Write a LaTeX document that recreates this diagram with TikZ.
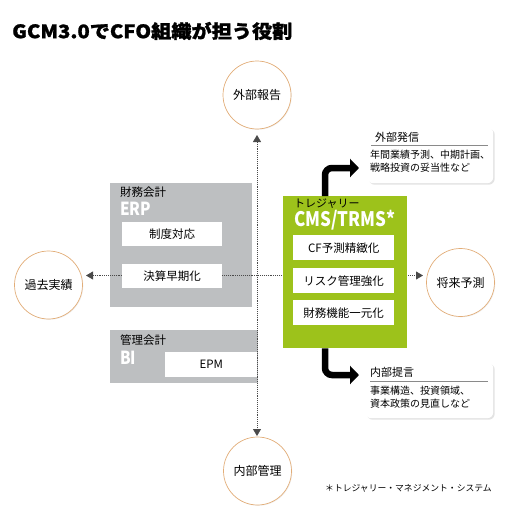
\documentclass[tikz,border=0pt]{standalone}
\usepackage{fontspec}
\setmainfont{Noto Sans CJK JP}
\newfontfamily\condf[FakeStretch=0.85]{Noto Sans CJK JP}
\newfontfamily\titlef[FakeBold=1.2,FakeStretch=1.09]{Noto Sans CJK JP}
\usetikzlibrary{shadows,arrows.meta}
\definecolor{circc}{HTML}{E2AD78}
\definecolor{grayb}{HTML}{BDBFC1}
\definecolor{grn}{HTML}{9DC21B}
\definecolor{dotc}{HTML}{4A4A4A}
\definecolor{rulec}{HTML}{8A8A8A}
\tikzset{
  fs/.style={font=\fontsize{#1}{#1}\selectfont},
  circnode/.style={circle, draw=circc, line width=0.7pt, fill=white, minimum size=68pt, inner sep=0pt, fs=12,
    drop shadow={opacity=0.12, shadow xshift=0.8pt, shadow yshift=-0.8pt}},
  panel/.style={anchor=north west, inner sep=0pt, minimum width=#1},
  wbox/.style={fill=white, anchor=north west, inner sep=0pt, minimum height=24pt, fs=11.5},
  lbl/.style={anchor=north west, inner sep=0pt, fs=11.5},
  big/.style={anchor=north west, inner sep=0pt, text=white, font=\condf\bfseries\fontsize{#1}{#1}\selectfont},
  dotline/.style={draw=dotc, line width=0.8pt, dash pattern=on 0.8pt off 1.1pt,
    {Triangle[length=7pt,width=8pt]}-{Triangle[length=7pt,width=8pt]}},
  bigarrow/.style={draw=black, line width=6.5pt, rounded corners=7pt, -{Triangle[length=9pt,width=18pt]}},
  infobox/.style={anchor=north west, fill=white, rounded corners=6pt, inner sep=0pt,
    drop shadow={opacity=0.22, shadow xshift=1.5pt, shadow yshift=-1.5pt}},
}
\begin{document}
\begin{tikzpicture}[x=1pt,y=-1pt]
\useasboundingbox (0,0) rectangle (507,514);
% title
\node[anchor=west, inner sep=0pt, font=\titlef\bfseries\fontsize{18.5}{19}\selectfont] (title) at (12,31) {GCM3.0でCFO組織が担う役割};

% gray panels
\node[panel=142pt, fill=grayb, minimum height=124pt] (erp) at (110,183) {};
\node[panel=148pt, fill=grayb, minimum height=53pt] (bi) at (110,330) {};
\node[lbl] (zaimu) at (120,187) {財務会計};
\node[big=18] (erpt) at (120,202) {ERP};
\node[lbl] (kanri) at (120,335) {管理会計};
\node[big=18] (bit) at (120,351) {BI};

% circles
\node[circnode] (gaibu) at (257,95) {外部報告};
\node[circnode] (kako) at (48.5,285) {過去実績};
\node[circnode] (shorai) at (460.5,282.5) {将来予測};
\node[circnode] (naibu) at (257.5,471) {内部管理};

% dotted axes
\coordinate (ltip) at (86,275.5);
\coordinate (rtip) at (423,275.5);
\coordinate (ttip) at (257,135);
\coordinate (btip) at (257,436);
\draw[dotline] (ltip) -- (rtip);
\draw[dotline] (ttip) -- (btip);

% white boxes in gray panels
\node[wbox, minimum width=100pt] (seido) at (122,222) {制度対応};
\node[wbox, minimum width=100pt] (kessan) at (122,264) {決算早期化};
\node[wbox, minimum width=92pt, minimum height=25pt] (epm) at (165,352) {EPM};

% green panel
\node[panel=124pt, fill=grn, minimum height=152pt] (cms) at (283,196) {};
\node[anchor=north west, inner sep=0pt, fs=11] (treas) at (294,199) {トレジャリー};
\node[big=20] (cmst) at (294,210) {CMS/TRMS*};
\node[wbox, minimum width=101pt, minimum height=25pt, fs=11.5] (cf) at (293,235) {CF予測精緻化};
\node[wbox, minimum width=101pt, minimum height=25pt, fs=11.5] (risk) at (293,268) {リスク管理強化};
\node[wbox, minimum width=101pt, minimum height=25pt, fs=11.5] (ichi) at (293,300) {財務機能一元化};

% info boxes
\node[infobox, minimum width=126pt, minimum height=56pt] (hasshin) at (367,127) {};
\node[lbl, fs=11] (hasshint) at (375,132) {外部発信};
\draw[rulec, line width=0.7pt] (hasshin.north west) ++(4,18) coordinate (h1) -- ++(117,0) coordinate (h2);
\node[anchor=north west, inner sep=0pt, align=left, font=\fontsize{10}{13}\selectfont] (hasshinb) at (370,150) {年間業績予測、中期計画、\\戦略投資の妥当性など};

\node[infobox, minimum width=128pt, minimum height=56pt] (teigen) at (365,362) {};
\node[lbl, fs=11] (teigent) at (370,367) {内部提言};
\draw[rulec, line width=0.7pt] (teigen.north west) ++(5,19) coordinate (t1) -- ++(118,0) coordinate (t2);
\node[anchor=north west, inner sep=0pt, align=left, font=\fontsize{10}{12.5}\selectfont] (teigenb) at (370,386) {事業構造、投資領域、\\資本政策の見直しなど};

% thick arrows
\coordinate (c1) at (325,168);
\coordinate (tip1) at (359,168);
\coordinate (c2) at (325,375);
\coordinate (tip2) at (359,375);
\draw[bigarrow] (cms.north -| c1) -- (c1) -- (tip1);
\draw[bigarrow] (cms.south -| c2) -- (c2) -- (tip2);

% footnote
\node[anchor=west, inner sep=0pt, fs=8.8] (foot) at (325,488) {＊トレジャリー・マネジメント・システム};
\end{tikzpicture}
\end{document}
